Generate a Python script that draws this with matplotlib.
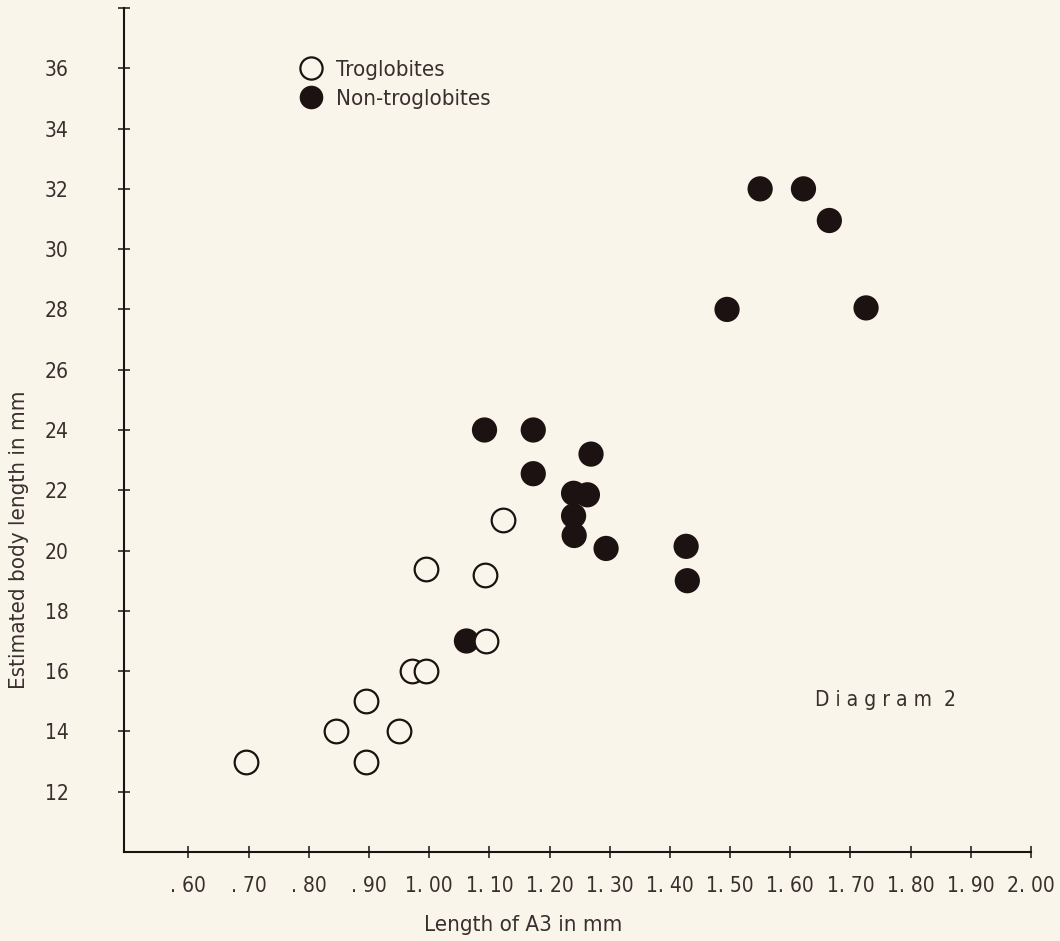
import matplotlib
matplotlib.use('Agg')
import matplotlib.pyplot as plt
from matplotlib.lines import Line2D

plt.rcParams['font.family'] = ['DejaVu Sans']
plt.rcParams['font.stretch'] = 'condensed'

# troglobites (open circles)
trog_x = [0.695, 0.845, 0.895, 0.895, 0.95, 0.972, 0.995, 0.995, 1.093, 1.095, 1.122]
trog_y = [13.0, 14.0, 15.0, 13.0, 14.0, 16.0, 16.0, 19.4, 19.2, 17.0, 21.0]

# non-troglobites (filled circles)
non_x = [1.062, 1.092, 1.173, 1.173, 1.269, 1.263, 1.24, 1.24, 1.241, 1.294,
         1.427, 1.429, 1.495, 1.55, 1.622, 1.665, 1.726]
non_y = [17.0, 24.0, 24.0, 22.55, 23.2, 21.85, 21.9, 21.15, 20.5, 20.07,
         20.14, 19.0, 28.0, 32.0, 32.0, 30.95, 28.05]

xticks = [0.6, 0.7, 0.8, 0.9, 1.0, 1.1, 1.2, 1.3, 1.4, 1.5, 1.6, 1.7, 1.8, 1.9, 2.0]
xticklabels = ['. 60', '. 70', '. 80', '. 90', '1. 00', '1. 10', '1. 20', '1. 30',
               '1. 40', '1. 50', '1. 60', '1. 70', '1. 80', '1. 90', '2. 00']
yticks = [12, 14, 16, 18, 20, 22, 24, 26, 28, 30, 32, 34, 36]

bg = '#faf5eb'
ink = '#1c1212'
txt = '#3a2e2e'

fig = plt.figure(figsize=(10.6, 9.41), dpi=100, facecolor=bg)
ax = fig.add_axes([0.117, 0.0946, 0.8556, 0.8969], facecolor=bg)

ax.scatter(non_x, non_y, s=330, c=ink, edgecolors='none', zorder=3)
ax.scatter(trog_x, trog_y, s=290, facecolors=bg, edgecolors=ink, linewidths=1.6, zorder=4)

ax.set_xlim(0.493, 2.0)
ax.set_ylim(10, 38)

ax.spines['top'].set_visible(False)
ax.spines['right'].set_visible(False)
for s in ['left', 'bottom']:
    ax.spines[s].set_color(ink)
    ax.spines[s].set_linewidth(1.5)

ax.set_xticks(xticks)
ax.set_xticklabels(xticklabels)
ax.set_yticks(yticks + [38])
ax.set_yticklabels([str(v) for v in yticks] + [''])
ax.tick_params(direction='inout', length=8, width=1.1, colors=ink, labelcolor=txt,
               labelsize=15)
ax.tick_params(axis='y', pad=36)
ax.tick_params(axis='x', pad=13)

ax.set_xlabel('Length of A3 in mm', fontsize=16, color=txt)
ax.xaxis.set_label_coords(0.44, -0.075)
ax.set_ylabel('Estimated body length in mm', fontsize=16, color=txt)
ax.yaxis.set_label_coords(-0.105, 0.37)

ax.text(0.84, 0.18, 'D i a g r a m  2', transform=ax.transAxes, fontsize=15,
        color=txt, ha='center', va='center')

handles = [
    Line2D([], [], marker='o', linestyle='none', markersize=16, markerfacecolor=bg,
           markeredgecolor=ink, markeredgewidth=1.6),
    Line2D([], [], marker='o', linestyle='none', markersize=17, markerfacecolor=ink,
           markeredgecolor='none'),
]
ax.legend(handles, ['Troglobites', 'Non-troglobites'], loc='upper left',
          bbox_to_anchor=(0.16, 0.962), frameon=False, fontsize=16,
          handletextpad=0.1, labelspacing=0.4, labelcolor=txt)

fig.savefig('out.png', dpi=100, facecolor=bg)
